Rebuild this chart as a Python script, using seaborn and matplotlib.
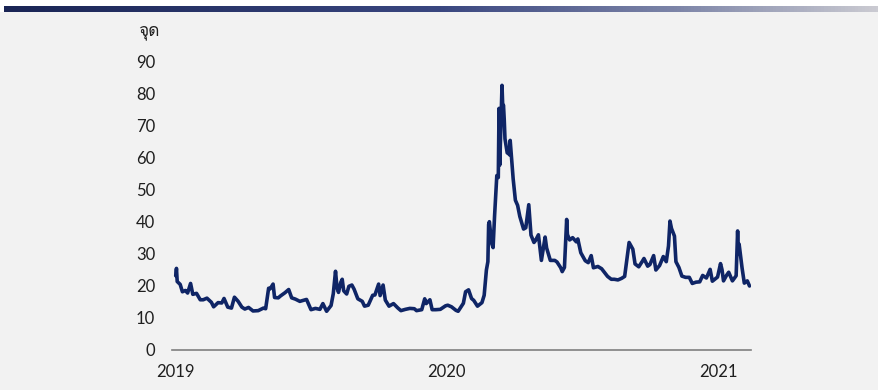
import matplotlib
matplotlib.use("Agg")
import matplotlib.pyplot as plt
from matplotlib import font_manager
from matplotlib.ft2font import FT2Font
import numpy as np
import pandas as pd
import seaborn as sns

# VIX-style index, points
dates_2019 = ["2019-01-02", "2019-01-03", "2019-01-04", "2019-01-08", "2019-01-11", "2019-01-15",
              "2019-01-18", "2019-01-22", "2019-01-25", "2019-01-30", "2019-02-04", "2019-02-08",
              "2019-02-13", "2019-02-19", "2019-02-22", "2019-02-28", "2019-03-05", "2019-03-08",
              "2019-03-13", "2019-03-18", "2019-03-22", "2019-03-27", "2019-04-01", "2019-04-05",
              "2019-04-10", "2019-04-16", "2019-04-23", "2019-04-30", "2019-05-03", "2019-05-07",
              "2019-05-09", "2019-05-13", "2019-05-15", "2019-05-20", "2019-05-23", "2019-05-29",
              "2019-06-03", "2019-06-07", "2019-06-12", "2019-06-18", "2019-06-21", "2019-06-27",
              "2019-07-03", "2019-07-09", "2019-07-15", "2019-07-19", "2019-07-24", "2019-07-30",
              "2019-08-02", "2019-08-05", "2019-08-07", "2019-08-09", "2019-08-12", "2019-08-14",
              "2019-08-16", "2019-08-20", "2019-08-23", "2019-08-27", "2019-08-30", "2019-09-04",
              "2019-09-10", "2019-09-13", "2019-09-18", "2019-09-24", "2019-09-27", "2019-10-02",
              "2019-10-04", "2019-10-08", "2019-10-11", "2019-10-16", "2019-10-22", "2019-10-28",
              "2019-11-01", "2019-11-07", "2019-11-13", "2019-11-19", "2019-11-22", "2019-11-29",
              "2019-12-03", "2019-12-05", "2019-12-10", "2019-12-13", "2019-12-18", "2019-12-24",
              "2019-12-31"]
vix_2019 = [23.2, 25.5, 21.4, 20.5, 18.2, 18.6,
            17.8, 20.8, 17.4, 17.7, 15.7, 15.7,
            16.2, 14.9, 13.5, 14.8, 14.7, 16.1,
            13.4, 13.1, 16.5, 15.2, 13.4, 12.8,
            13.3, 12.2, 12.3, 13.1, 12.9, 19.3,
            19.1, 20.6, 16.4, 16.3, 16.9, 17.9,
            18.9, 16.3, 15.9, 15.2, 15.4, 15.8,
            12.6, 13.0, 12.7, 14.5, 12.1, 13.9,
            17.6, 24.6, 19.5, 18.0, 21.1, 22.1,
            18.5, 17.5, 19.9, 20.3, 19.0, 16.0,
            15.2, 13.7, 14.0, 17.1, 17.2, 20.6,
            17.0, 20.3, 15.6, 13.7, 14.5, 13.1,
            12.3, 12.7, 13.0, 12.9, 12.3, 12.6,
            16.0, 14.5, 15.7, 12.6, 12.6, 12.7,
            13.8]

dates_2020 = ["2020-01-03", "2020-01-08", "2020-01-14", "2020-01-17", "2020-01-24", "2020-01-27",
              "2020-01-31", "2020-02-04", "2020-02-07", "2020-02-12", "2020-02-18", "2020-02-21",
              "2020-02-24", "2020-02-26", "2020-02-27", "2020-02-28", "2020-03-02", "2020-03-04",
              "2020-03-06", "2020-03-09", "2020-03-11", "2020-03-12", "2020-03-13", "2020-03-16",
              "2020-03-17", "2020-03-18", "2020-03-19", "2020-03-20", "2020-03-23", "2020-03-24",
              "2020-03-26", "2020-03-27", "2020-03-31", "2020-04-03", "2020-04-06", "2020-04-09",
              "2020-04-14", "2020-04-17", "2020-04-21", "2020-04-24", "2020-04-28", "2020-04-30",
              "2020-05-04", "2020-05-08", "2020-05-13", "2020-05-15", "2020-05-20", "2020-05-26",
              "2020-05-29", "2020-06-03", "2020-06-05", "2020-06-08", "2020-06-11", "2020-06-12",
              "2020-06-15", "2020-06-19", "2020-06-24", "2020-06-26", "2020-06-30", "2020-07-06",
              "2020-07-10", "2020-07-14", "2020-07-17", "2020-07-23", "2020-07-28", "2020-07-31",
              "2020-08-05", "2020-08-10", "2020-08-14", "2020-08-19", "2020-08-24", "2020-08-28",
              "2020-09-03", "2020-09-08", "2020-09-11", "2020-09-16", "2020-09-21", "2020-09-23",
              "2020-09-28", "2020-10-01", "2020-10-06", "2020-10-09", "2020-10-14", "2020-10-19",
              "2020-10-23", "2020-10-26", "2020-10-28", "2020-10-30", "2020-11-03", "2020-11-05",
              "2020-11-09", "2020-11-13", "2020-11-18", "2020-11-23", "2020-11-27", "2020-12-02",
              "2020-12-07", "2020-12-11", "2020-12-16", "2020-12-21", "2020-12-24", "2020-12-31"]
vix_2020 = [14.0, 13.5, 12.4, 12.1, 14.6, 18.2,
            18.8, 16.1, 15.5, 13.7, 14.8, 17.1,
            25.0, 27.6, 39.2, 40.1, 33.4, 32.0,
            41.9, 54.5, 53.9, 75.5, 57.8, 82.7,
            75.9, 76.5, 72.0, 66.0, 61.6, 61.7,
            61.0, 65.5, 53.5, 46.8, 45.2, 41.7,
            37.8, 38.2, 45.4, 35.9, 33.6, 34.2,
            36.0, 28.0, 35.3, 31.9, 28.0, 28.0,
            27.5, 25.7, 24.5, 25.8, 40.8, 36.1,
            34.4, 35.1, 33.8, 34.7, 30.4, 27.9,
            27.3, 29.5, 25.7, 26.1, 25.4, 24.5,
            23.0, 22.1, 22.1, 21.9, 22.4, 23.0,
            33.6, 31.5, 26.9, 26.0, 27.8, 28.6,
            26.2, 26.7, 29.5, 25.0, 26.4, 29.2,
            27.6, 32.5, 40.3, 38.0, 35.6, 27.6,
            25.8, 23.1, 22.7, 22.7, 20.8, 21.2,
            21.3, 23.3, 22.5, 25.2, 21.5, 22.8]

dates_2021 = ["2021-01-04", "2021-01-06", "2021-01-08", "2021-01-12", "2021-01-15", "2021-01-20",
              "2021-01-25", "2021-01-27", "2021-01-28", "2021-01-29", "2021-02-02", "2021-02-05",
              "2021-02-09", "2021-02-12"]
vix_2021 = [27.0, 25.1, 21.6, 23.3, 24.3, 21.6,
            23.2, 37.2, 30.2, 33.1, 25.6, 20.9,
            21.6, 20.0]

year_ticks = ["2019-01-01", "2020-01-01", "2021-01-01"]
year_labels = ["2019", "2020", "2021"]
y_ticks = [0, 10, 20, 30, 40, 50, 60, 70, 80, 90]
unit_label = "จุด"

df = pd.DataFrame({
    "date": pd.to_datetime(dates_2019 + dates_2020 + dates_2021),
    "vix": vix_2019 + vix_2020 + vix_2021,
})

BG = "#f2f2f2"
LINE = "#0f2566"
TXT = "#1f1f1f"

sns.set_theme(style="white", rc={"axes.facecolor": BG, "figure.facecolor": BG})
plt.rcParams["font.family"] = ["Lato", "DejaVu Sans"]


def thai_font():
    # find any installed font that has Thai glyphs
    for f in font_manager.fontManager.ttflist:
        try:
            if ord("จ") in FT2Font(f.fname).get_charmap():
                return f.name
        except Exception:
            continue
    return None


thai = thai_font()
unit_family = [thai, "DejaVu Sans"] if thai else ["DejaVu Sans"]

fig = plt.figure(figsize=(8.79, 3.9), dpi=100)

# white strip with the gradient bar at the top
top = fig.add_axes([0, 1 - 12 / 390, 1, 12 / 390])
top.set_facecolor("white")
top.set_xlim(0, 1)
top.set_ylim(0, 12)
grad = np.linspace(0, 1, 256).reshape(1, -1)
cmap = matplotlib.colors.LinearSegmentedColormap.from_list(
    "bar", [(0, "#1a2555"), (0.5, "#3a4780"), (0.77, "#7d85a8"), (1, "#cbcbd2")])
top.imshow(grad, aspect="auto", cmap=cmap, extent=[4 / 879, 1, 0, 6])
top.set_xticks([])
top.set_yticks([])
for s in top.spines.values():
    s.set_visible(False)

ax = fig.add_axes([172 / 879, 40 / 390, 579 / 879, 288 / 390])
sns.lineplot(data=df, x="date", y="vix", ax=ax, color=LINE, linewidth=2.6)

ax.set_xlim(pd.Timestamp("2018-12-28"), pd.Timestamp("2021-02-14"))
ax.set_ylim(0, 90)
ax.set_yticks(y_ticks)
ax.set_xticks(pd.to_datetime(year_ticks))
ax.set_xticklabels(year_labels)
ax.tick_params(axis="both", length=0, labelsize=12, colors=TXT)
ax.tick_params(axis="y", pad=12)
ax.tick_params(axis="x", pad=10)
ax.set_xlabel("")
ax.set_ylabel("")
for side in ["left", "right", "top"]:
    ax.spines[side].set_visible(False)
ax.spines["bottom"].set_color("#7f7f7f")
ax.spines["bottom"].set_linewidth(1.2)

fig.text(149 / 879, 1 - 32 / 390, unit_label, ha="center", va="center",
         fontsize=12.5, color=TXT, family=unit_family)

fig.savefig("out.png", dpi=100, facecolor=BG)
